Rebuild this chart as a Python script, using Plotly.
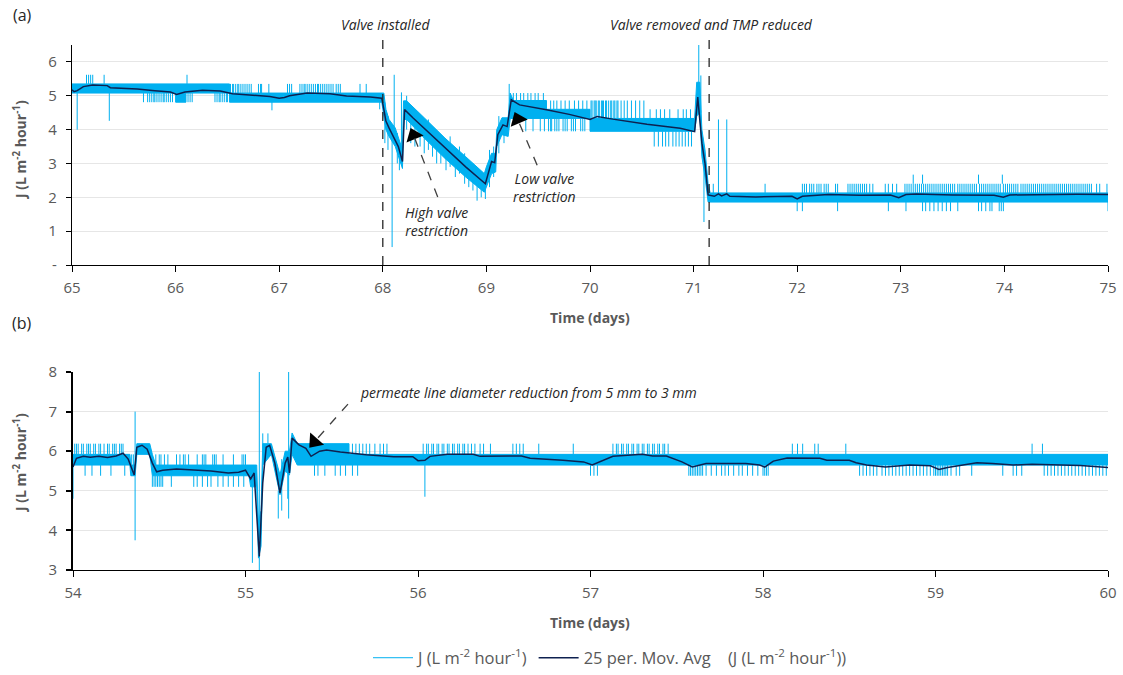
import plotly.graph_objects as go

# ---------------- Panel (a): days 65-75 ----------------
# raw flux band (continuous envelope of the fast-oscillating signal)
a_band_t = [65.00, 66.00, 66.00, 66.10, 66.10, 66.52, 66.52, 67.99, 68.01, 68.03, 68.06, 68.12,
            68.19, 68.20, 68.23, 68.40, 68.60, 68.80, 68.98, 69.00, 69.05, 69.09, 69.10, 69.15,
            69.21, 69.23, 69.26, 69.58, 69.58, 70.00, 70.00, 71.01, 71.03, 71.06,
            71.08, 71.11, 71.14, 71.16, 75.00]
a_band_lo = [5.08, 5.08, 4.81, 4.81, 5.08, 5.08, 4.81, 4.81, 4.40, 4.00, 3.80, 3.50,
             2.85, 4.30, 4.30, 3.75, 3.15, 2.60, 2.15, 2.30, 2.70, 2.75, 3.50, 3.85,
             3.80, 4.33, 4.33, 4.33, 4.33, 4.33, 3.95, 3.95, 4.40, 4.50,
             3.20, 2.60, 1.86, 1.86, 1.86]
a_band_hi = [5.35, 5.35, 5.35, 5.35, 5.35, 5.35, 5.08, 5.08, 5.08, 4.60, 4.30, 4.05,
             3.40, 4.85, 4.85, 4.35, 3.75, 3.20, 2.70, 2.90, 3.30, 3.30, 4.00, 4.35,
             4.35, 5.08, 4.86, 4.86, 4.60, 4.60, 4.33, 4.33, 5.40, 5.40,
             4.00, 3.40, 2.40, 2.13, 2.13]

# short excursions of the raw signal, grouped by the two quantised levels they join
a_up_65 = [65.14, 65.16, 65.18, 65.20, 65.31, 66.11]                                       # 5.35 -> 5.62
a_dn_65 = [65.69, 65.73, 65.75, 65.77, 65.79, 65.80, 65.82, 65.84, 65.86, 65.88, 65.89,
           65.91, 65.93, 65.95, 65.97, 66.12, 66.14, 66.16, 66.38, 66.40, 66.42, 66.43,
           66.45, 66.47, 66.49, 66.50]                                                     # 5.08 -> 4.81
a_up_66 = [66.53, 66.55, 66.56, 66.58, 66.60, 66.61, 66.63, 66.65, 66.67, 66.69, 66.71,
           66.73, 66.80, 66.82, 66.83, 66.90, 67.08, 67.10, 67.12, 67.20, 67.22, 67.24,
           67.25, 67.27, 67.29, 67.31, 67.33, 67.35, 67.37, 67.38, 67.40, 67.42, 67.44,
           67.46, 67.48, 67.50, 67.52, 67.55, 67.57, 67.59, 67.78, 67.84]                 # 5.08 -> 5.35
a_up_69 = [69.26, 69.29, 69.33, 69.36, 69.40, 69.43, 69.47, 69.50, 69.55]                 # 4.86 -> 5.08
a_dn_69 = [69.38, 69.45, 69.52, 69.56, 69.60, 69.62, 69.63, 69.66, 69.68, 69.70, 69.74,
           69.76, 69.78, 69.82, 69.84, 69.86, 69.91, 69.93, 69.95]                         # 4.33 -> 3.95
a_up_696 = [69.62, 69.65, 69.68, 69.72, 69.76, 69.80, 69.85, 69.89, 69.93, 69.97]        # 4.60 -> 4.86
a_up_70 = [70.01, 70.02, 70.04, 70.05, 70.06, 70.08, 70.09, 70.11, 70.12, 70.13, 70.15,
           70.16, 70.18, 70.20, 70.21, 70.23, 70.24, 70.26, 70.27, 70.30, 70.33, 70.36,
           70.40, 70.44, 70.48, 70.52]                                                     # 4.33 -> 4.86
a_up_705 = [70.58, 70.64, 70.68, 70.72, 70.77, 70.85, 70.90, 70.93, 70.97]                # 4.33 -> 4.60
a_dn_705 = [70.62, 70.66, 70.70, 70.73, 70.76, 70.80, 70.83, 70.86, 70.89, 70.92, 70.95,
            70.98]                                                                         # 3.95 -> 3.50
a_up_72 = [71.19, 71.69, 72.05, 72.07, 72.09, 72.12, 72.14, 72.16, 72.19, 72.21, 72.23,
           72.26, 72.28, 72.30, 72.37, 72.39, 72.49, 72.51, 72.53, 72.55, 72.57, 72.59,
           72.61, 72.63, 72.65, 72.67, 72.70, 72.73, 72.85, 72.88, 72.92, 72.96, 73.04,
           73.06, 73.08, 73.10, 73.12, 73.14, 73.16, 73.18, 73.20, 73.22, 73.24, 73.26,
           73.28, 73.30, 73.32, 73.34, 73.36, 73.38, 73.40, 73.42, 73.44, 73.46, 73.48,
           73.50, 73.52, 73.55, 73.57, 73.59, 73.61, 73.63, 73.65, 73.67, 73.69, 73.71,
           73.73, 73.76, 73.78, 73.80, 73.82, 73.84, 73.86, 73.88, 73.90, 73.92, 73.94,
           73.96, 73.99, 74.01, 74.03, 74.05, 74.07, 74.09, 74.11, 74.13, 74.16, 74.18,
           74.20, 74.22, 74.24, 74.26, 74.28, 74.30, 74.32, 74.34, 74.36, 74.38, 74.40,
           74.42, 74.44, 74.46, 74.48, 74.50, 74.52, 74.54, 74.56, 74.58, 74.60, 74.62,
           74.64, 74.66, 74.68, 74.70, 74.72, 74.74, 74.76, 74.78, 74.80, 74.82, 74.84,
           74.89, 74.92, 74.99]                                                            # 2.13 -> 2.40
a_up2_72 = [73.12, 73.21, 73.75, 73.98]                                                    # 2.40 -> 2.67
a_dn_72 = [72.00, 72.05, 72.39, 72.88, 73.05, 73.21, 73.24, 73.28, 73.32, 73.36, 73.40,
           73.44, 73.48, 73.55, 73.75, 73.78, 73.82, 73.86, 73.88, 73.95, 73.97, 73.99,
           75.00]                                                                          # 1.86 -> 1.59

# individual excursions: time, lowest and highest value reached
a_iso_t = [65.05, 65.36, 66.93, 67.97, 68.02, 68.05, 68.09, 68.11, 68.14, 68.16, 68.18,
           68.23, 68.27, 68.31, 68.36, 68.40, 68.44, 68.48, 68.52, 68.56, 68.61, 68.65,
           68.70, 68.74, 68.79, 68.83, 68.87, 68.91, 68.95, 68.99, 69.03, 69.07, 69.12,
           69.17, 69.22, 71.05, 71.07, 71.10, 71.24, 71.32]
a_iso_lo = [4.00, 4.26, 4.57, 4.60, 3.60, 3.40, 0.53, 3.90, 3.00, 2.80, 3.00,
            4.00, 3.60, 3.50, 3.50, 3.30, 3.40, 3.20, 3.00, 3.00, 2.80, 2.90,
            2.60, 2.70, 2.40, 2.30, 2.20, 1.90, 2.00, 1.95, 2.30, 2.60, 3.30,
            3.60, 4.30, 5.00, 4.50, 1.27, 2.10, 2.10]
a_iso_hi = [5.10, 5.10, 4.85, 4.85, 4.80, 4.40, 3.90, 5.62, 3.90, 3.60, 5.10,
            5.00, 4.40, 4.50, 4.20, 4.10, 4.30, 4.00, 3.90, 3.80, 3.60, 3.80,
            3.40, 3.50, 3.30, 3.10, 3.00, 2.80, 2.70, 2.60, 3.40, 3.50, 4.40,
            4.30, 5.35, 6.50, 5.60, 3.00, 4.30, 4.30]

# 25-period moving average
a_avg_t = [65.00, 65.02, 65.05, 65.11, 65.20, 65.34, 65.37, 65.50, 65.63, 65.80, 65.95,
           66.01, 66.05, 66.09, 66.26, 66.43, 66.55, 66.75, 66.91, 67.00, 67.05, 67.10,
           67.27, 67.49, 67.65, 67.88, 67.99, 68.01, 68.03, 68.06, 68.10, 68.15, 68.19,
           68.21, 68.29, 68.45, 68.62, 68.80, 68.99, 69.02, 69.05, 69.08, 69.11, 69.16,
           69.20, 69.24, 69.32, 69.58, 69.80, 70.00, 70.07, 70.22, 70.55, 70.87, 71.01,
           71.04, 71.08, 71.11, 71.14, 71.20, 71.24, 71.27, 71.32, 71.35, 71.60, 71.95,
           72.00, 72.05, 72.30, 72.60, 72.90, 72.98, 73.05, 73.15, 73.50, 73.90, 73.99,
           74.05, 74.40, 74.70, 75.00]
a_avg_j = [5.18, 5.12, 5.15, 5.27, 5.32, 5.30, 5.24, 5.23, 5.20, 5.15, 5.11,
           5.04, 5.08, 5.11, 5.16, 5.14, 5.06, 5.02, 4.98, 4.93, 4.95, 5.00,
           5.08, 5.06, 4.99, 4.96, 4.93, 4.60, 4.25, 4.05, 3.80, 3.50, 3.06,
           4.59, 4.35, 3.90, 3.40, 2.90, 2.40, 2.72, 3.06, 3.02, 3.85, 4.14,
           4.09, 4.88, 4.73, 4.59, 4.45, 4.30, 4.39, 4.31, 4.16, 4.04, 3.94,
           4.96, 3.60, 3.00, 2.07, 2.03, 2.10, 2.04, 2.10, 2.03, 2.01, 2.03,
           1.95, 2.03, 2.08, 2.06, 2.07, 1.99, 2.08, 2.10, 2.07, 2.06, 2.00,
           2.07, 2.09, 2.09, 2.08]

# ---------------- Panel (b): days 54-60 ----------------
b_band_t = [54.00, 54.33, 54.335, 54.36, 54.37, 54.445, 54.46, 54.48, 55.02, 55.03, 55.065,
            55.075, 55.09, 55.10, 55.15, 55.20, 55.23, 55.255, 55.27, 55.30, 55.60, 55.60,
            60.00]
b_band_lo = [5.65, 5.65, 5.38, 5.38, 5.92, 5.92, 5.38, 5.38, 5.38, 5.10, 5.10,
             3.30, 3.60, 5.65, 5.92, 4.90, 5.50, 5.40, 5.92, 5.65, 5.65, 5.65,
             5.65]
b_band_hi = [5.92, 5.92, 5.65, 5.65, 6.19, 6.19, 5.92, 5.65, 5.65, 5.65, 5.65,
             4.20, 4.50, 6.19, 6.19, 5.40, 6.00, 6.00, 6.46, 6.19, 6.19, 5.92,
             5.92]

b_up_hi = [54.01, 54.02, 54.03, 54.05, 54.06, 54.08, 54.09, 54.10, 54.12, 54.13, 54.15,
           54.16, 54.18, 54.20, 54.21, 54.23, 54.24, 54.25, 54.27, 54.28, 54.29,
           55.62, 55.64, 55.66, 55.68, 55.70, 55.72, 55.75, 55.78, 55.80, 55.82,
           56.03, 56.05, 56.06, 56.08, 56.09, 56.11, 56.12, 56.14, 56.15, 56.17, 56.18,
           56.20, 56.21, 56.23, 56.24, 56.26, 56.27, 56.29, 56.31, 56.33, 56.36, 56.38,
           56.42, 56.55, 56.57, 56.59, 56.61, 56.70, 56.90,
           57.13, 57.15, 57.16, 57.18, 57.19, 57.21, 57.22, 57.24, 57.25, 57.27, 57.28,
           57.30, 57.31, 57.33, 57.34, 57.36, 57.37, 57.39, 57.40, 57.42, 57.43, 57.45,
           58.17, 58.20, 58.23, 58.30, 58.32, 58.48, 59.56, 59.62]                         # 5.92 -> 6.19
b_up_mid = [54.48, 54.50, 54.51, 54.53, 54.55, 54.60, 54.62, 54.64, 54.65, 54.67, 54.72,
            54.75, 54.76, 54.77, 54.81, 54.82, 54.83, 54.87, 54.93, 54.98, 54.99, 55.00]  # 5.65 -> 5.92
b_dn_mid = [54.07, 54.11, 54.16, 54.22, 54.30, 55.40, 55.42, 55.46, 55.52, 55.55, 55.58,
            55.62, 55.65, 57.00, 57.02, 57.04,
            57.57, 57.58, 57.59, 57.60, 57.61, 57.62, 57.63, 57.64, 57.65,
            57.67, 57.70, 57.73, 57.76, 57.78, 57.80, 57.83, 57.86, 57.88, 57.91, 57.94,
            57.97, 58.00, 58.01, 58.02, 58.03,
            58.56, 58.58, 58.60, 58.62, 58.64, 58.66, 58.69, 58.71, 58.73, 58.75, 58.77,
            58.79, 58.81, 58.83, 58.85, 58.87, 58.89, 58.91, 58.93, 58.95, 58.97, 58.99,
            59.00, 59.01, 59.02, 59.03, 59.04, 59.05, 59.06, 59.07, 59.09,
            59.12, 59.14, 59.21, 59.39, 59.45, 59.47, 59.50, 59.63, 59.65, 59.67, 59.69,
            59.71, 59.73, 59.75, 59.77, 59.79, 59.81, 59.83, 59.85, 59.87, 59.89, 59.91,
            59.93, 59.95, 59.97, 59.99]                                                    # 5.65 -> 5.38
b_dn_low = [54.46, 54.47, 54.48, 54.49, 54.50, 54.51, 54.52, 54.57, 54.70, 54.72, 54.75,
            54.78, 54.80, 54.84, 54.87, 54.90, 54.93, 54.96, 54.99]                        # 5.38 -> 5.10

b_iso_t = [54.00, 54.34, 54.35, 54.36, 55.04, 55.08, 55.10, 55.13, 55.19, 55.21, 55.245,
           55.25, 56.04]
b_iso_lo = [4.80, 5.38, 5.38, 3.75, 3.18, 3.00, 5.90, 6.20, 4.30, 4.50, 4.80,
            4.30, 4.85]
b_iso_hi = [5.65, 5.92, 5.92, 7.00, 5.40, 8.00, 6.45, 6.45, 5.00, 5.80, 5.90,
            8.00, 5.65]

b_avg_t = [54.00, 54.02, 54.06, 54.10, 54.15, 54.20, 54.25, 54.29, 54.32, 54.355, 54.37,
           54.40, 54.43, 54.46, 54.485, 54.52, 54.60, 54.70, 54.80, 54.90, 54.96, 55.00,
           55.03, 55.05, 55.08, 55.10, 55.12, 55.14, 55.17, 55.20, 55.23, 55.245, 55.255,
           55.27, 55.31, 55.35, 55.38, 55.43, 55.47, 55.55, 55.70, 55.86, 55.97, 56.00,
           56.04, 56.07, 56.17, 56.32, 56.36, 56.60, 56.65, 56.84, 56.96, 57.01, 57.07,
           57.13, 57.30, 57.36, 57.44, 57.53, 57.59, 57.67, 57.90, 57.98, 58.01, 58.06,
           58.14, 58.24, 58.33, 58.37, 58.50, 58.54, 58.60, 58.71, 58.85, 58.97, 59.02,
           59.07, 59.18, 59.24, 59.33, 59.45, 59.56, 59.68, 59.84, 60.00]
b_avg_j = [5.60, 5.82, 5.87, 5.85, 5.87, 5.84, 5.88, 5.95, 5.80, 5.40, 6.10,
           6.15, 6.05, 5.70, 5.48, 5.52, 5.55, 5.52, 5.50, 5.45, 5.47, 5.52,
           5.30, 5.45, 3.34, 5.20, 6.10, 6.15, 5.70, 4.94, 5.70, 5.85, 5.45,
           6.33, 6.16, 6.07, 5.87, 6.00, 6.03, 5.98, 5.91, 5.86, 5.86, 5.76,
           5.77, 5.87, 5.92, 5.92, 5.87, 5.88, 5.82, 5.77, 5.73, 5.65, 5.77,
           5.87, 5.92, 5.88, 5.88, 5.73, 5.60, 5.69, 5.69, 5.65, 5.60, 5.75,
           5.83, 5.83, 5.82, 5.77, 5.77, 5.71, 5.65, 5.60, 5.65, 5.63, 5.54,
           5.59, 5.67, 5.71, 5.69, 5.65, 5.67, 5.65, 5.64, 5.59]

RAW = "#00B0F0"
AVG = "#0E2150"
GREY = "#595959"
DARK = "#262626"
FONT = "Open Sans"


def segments(times, lo, hi):
    """Vertical segments joined into one polyline, separated by gaps."""
    xs, ys = [], []
    for i, t in enumerate(times):
        l = lo[i] if isinstance(lo, list) else lo
        h = hi[i] if isinstance(hi, list) else hi
        xs += [t, t, None]
        ys += [l, h, None]
    return xs, ys


def raw_traces(band_t, band_lo, band_hi, groups, xa, ya, legend):
    out = [go.Scatter(x=band_t + band_t[::-1], y=band_hi + band_lo[::-1], fill="toself",
                      fillcolor=RAW, line=dict(color=RAW, width=1), mode="lines",
                      showlegend=False, hoverinfo="skip", xaxis=xa, yaxis=ya)]
    xs, ys = [], []
    for times, lo, hi in groups:
        gx, gy = segments(times, lo, hi)
        xs += gx
        ys += gy
    out.append(go.Scatter(x=xs, y=ys, mode="lines", line=dict(color=RAW, width=1),
                          name="J (L m<sup>-2</sup> hour<sup>-1</sup>)", showlegend=legend,
                          xaxis=xa, yaxis=ya))
    return out


a_groups = [(a_up_65, 5.35, 5.62), (a_dn_65, 5.08, 4.81), (a_up_66, 5.08, 5.35),
            (a_up_69, 4.86, 5.08), (a_dn_69, 4.33, 3.95), (a_up_696, 4.60, 4.86),
            (a_up_70, 4.33, 4.86), (a_up_705, 4.33, 4.60),
            (a_dn_705, 3.95, 3.50), (a_up_72, 2.13, 2.40), (a_up2_72, 2.40, 2.67),
            (a_dn_72, 1.86, 1.59), (a_iso_t, a_iso_lo, a_iso_hi)]
b_groups = [(b_up_hi, 5.92, 6.19), (b_up_mid, 5.65, 5.92), (b_dn_mid, 5.65, 5.38),
            (b_dn_low, 5.38, 5.10), (b_iso_t, b_iso_lo, b_iso_hi)]

fig = go.Figure()
for tr in raw_traces(a_band_t, a_band_lo, a_band_hi, a_groups, "x", "y", True):
    fig.add_trace(tr)
for tr in raw_traces(b_band_t, b_band_lo, b_band_hi, b_groups, "x2", "y2", False):
    fig.add_trace(tr)

fig.add_trace(go.Scatter(x=a_avg_t, y=a_avg_j, mode="lines", line=dict(color=AVG, width=1.5),
                         name="25 per. Mov. Avg&nbsp;&nbsp;&nbsp; (J (L m<sup>-2</sup> hour<sup>-1</sup>))",
                         xaxis="x", yaxis="y"))
fig.add_trace(go.Scatter(x=b_avg_t, y=b_avg_j, mode="lines", line=dict(color=AVG, width=1.5),
                         showlegend=False, xaxis="x2", yaxis="y2"))

# dashed leader lines ending in solid arrow heads: (axes, tail t, tail J, head t, head J, angle)
leaders = [("x", "y", 68.53, 2.01, 68.297, 3.83, -22),
           ("x", "y", 69.49, 2.95, 69.302, 4.30, -23),
           ("x2", "y2", 55.594, 7.19, 55.40, 6.24, -139)]
for xr, yr, tx, ty, hx, hy, ang in leaders:
    fig.add_shape(type="line", xref=xr, yref=yr, x0=tx, y0=ty, x1=hx, y1=hy,
                  line=dict(color="#404040", width=1.3, dash="dash"))
    fig.add_trace(go.Scatter(x=[hx], y=[hy], mode="markers", showlegend=False, hoverinfo="skip",
                             marker=dict(symbol="triangle-up", size=16, angle=ang,
                                         color="#000000", line=dict(width=0)),
                             xaxis=xr, yaxis=yr))

tick_font = dict(family=FONT, size=15, color=GREY)
xcommon = dict(showline=True, linecolor="#000000", linewidth=1.3, ticks="outside", ticklen=6,
               tickcolor="#000000", tickwidth=1.3, dtick=1, showgrid=False, zeroline=False,
               tickfont=tick_font, ticklabelstandoff=3, automargin=False)
ycommon = dict(showline=True, linecolor="#000000", ticks="outside", ticklen=5,
               tickcolor="#000000", showgrid=True, gridcolor="#E6E6E6", gridwidth=1,
               zeroline=False, tickfont=tick_font, ticklabelstandoff=6, automargin=False)

fig.update_layout(
    width=1123, height=675, margin=dict(l=0, r=0, t=0, b=0, autoexpand=False),
    paper_bgcolor="white", plot_bgcolor="white",
    font=dict(family=FONT, color=GREY),
    xaxis=dict(domain=[72 / 1123, 1108 / 1123], range=[65, 75], anchor="y", **xcommon),
    yaxis=dict(domain=[1 - 265 / 675, 1 - 45 / 675], range=[0, 6.5], anchor="x",
               tickvals=[0, 1, 2, 3, 4, 5, 6], ticktext=["-", "1", "2", "3", "4", "5", "6"],
               linewidth=1.3, tickwidth=1.3, **ycommon),
    xaxis2=dict(domain=[73 / 1123, 1108 / 1123], range=[54, 60], anchor="y2", **xcommon),
    yaxis2=dict(domain=[1 - 570 / 675, 1 - 372 / 675], range=[3, 8], anchor="x2", dtick=1,
                linewidth=2, tickwidth=2, **ycommon),
    legend=dict(orientation="h", x=610 / 1123, xanchor="center", y=1 - 658 / 675,
                yanchor="middle", font=dict(family=FONT, size=16.5, color=GREY),
                itemwidth=40, bgcolor="rgba(0,0,0,0)"),
    showlegend=True,
)

# event markers
for t_ev in (68.0, 71.15):
    fig.add_shape(type="line", xref="x", yref="paper", x0=t_ev, x1=t_ev, y0=1 - 265 / 675,
                  y1=1 - 38 / 675, line=dict(color=DARK, width=1.3, dash="dash"))


def label(text, x, y, size=14, color=DARK, xref="paper", yref="paper", xanchor="center", **kw):
    return dict(text=text, x=x, y=y, xref=xref, yref=yref, xanchor=xanchor, yanchor="middle",
                showarrow=False, font=dict(family=FONT, size=size, color=color), **kw)


ann = [
    label("(a)", 22 / 1123, 1 - 15 / 675, size=16),
    label("(b)", 22 / 1123, 1 - 323 / 675, size=16),
    label("<i>Valve installed</i>", 385 / 1123, 1 - 25 / 675),
    label("<i>Valve removed and TMP reduced</i>", 711 / 1123, 1 - 25 / 675),
    label("<b>Time (days)</b>", 590 / 1123, 1 - 318 / 675, color=GREY),
    label("<b>Time (days)</b>", 590 / 1123, 1 - 622 / 675, color=GREY),
    label("<b>J (L m<sup>-2</sup> hour<sup>-1</sup>)</b>", 20 / 1123, 1 - 150 / 675,
          color=GREY, textangle=-90),
    label("<b>J (L m<sup>-2</sup> hour<sup>-1</sup>)</b>", 20 / 1123, 1 - 463 / 675,
          color=GREY, textangle=-90),
    label("<i>High valve<br>restriction</i>", 68.52, 1.3, xref="x", yref="y"),
    label("<i>Low valve<br>restriction</i>", 69.56, 2.3, xref="x", yref="y"),
    label("<i>permeate line diameter reduction from 5 mm to 3 mm</i>", 55.652, 7.49,
          xref="x2", yref="y2", xanchor="left"),
]

fig.update_layout(annotations=ann)
fig.write_html("out.html")
